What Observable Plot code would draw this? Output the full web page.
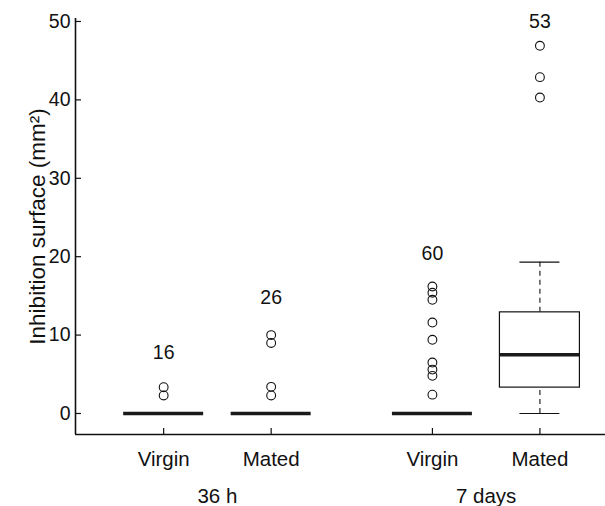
<!DOCTYPE html>
<html><head><meta charset="utf-8">
<script src="https://cdn.jsdelivr.net/npm/d3@7"></script>
<script src="https://cdn.jsdelivr.net/npm/@observablehq/plot@0.6"></script>
<style>body{margin:0;background:#fff} svg{display:block}</style>
</head><body><div id="chart"></div>
<script>
// ---- data ----
const groups = ["36 h", "36 h", "7 days", "7 days"];
const treatments = ["Virgin", "Mated", "Virgin", "Mated"];
const counts = [16, 26, 60, 53];
const lowerWhiskers = [0, 0, 0, 0];
const q1s = [0, 0, 0, 3.3];
const medians = [0, 0, 0, 7.5];
const q3s = [0, 0, 0, 12.9];
const upperWhiskers = [0, 0, 0, 19.3];
const outliers = [
  [3.35, 2.3],
  [10.0, 9.0, 3.4, 2.3],
  [16.2, 15.4, 14.5, 11.6, 9.4, 6.5, 5.6, 4.8, 2.4],
  [46.9, 42.9, 40.3]
];
const countLabelY = [7.8, 14.8, 20.4, 50.0];
const yTicks = [0, 10, 20, 30, 40, 50];
const yTitle = "Inhibition surface (mm²)";

// ---- derived layout (boxplot slots: groups separated by an extra half slot) ----
const groupNames = [...new Set(groups)];
const pos = groups.map((g, i) => i + 1 + 0.5 * groupNames.indexOf(g));
const boxHalf = 0.372, capHalf = 0.186;
const xDomain = [0.18, 5.11];
const yDomain = [-2.68, 50.38];

const rows = groups.map((g, i) => ({
  group: g, treatment: treatments[i], x: pos[i], n: counts[i],
  lo: lowerWhiskers[i], q1: q1s[i], med: medians[i], q3: q3s[i], hi: upperWhiskers[i],
  ly: countLabelY[i]
}));
const outRows = outliers.flatMap((arr, i) => arr.map(v => ({x: pos[i], y: v})));
const labelByPos = new Map(rows.map(r => [r.x, r.treatment]));
const groupCenters = groupNames.map(g => ({
  g, x: d3.mean(rows.filter(r => r.group === g), r => r.x)
}));

const FONT = 19.5;
const CAT_FONT = 20.5;
const TITLE_FONT = 22.5;
const ink = "#111";

const chart = Plot.plot({
  width: 605,
  height: 506,
  marginLeft: 75,
  marginRight: 0,
  marginTop: 18,
  marginBottom: 72,
  style: {fontFamily: "'Liberation Sans', Arial, Helvetica, sans-serif", fontSize: FONT + "px", color: ink, background: "#fff"},
  x: {domain: xDomain, label: null},
  y: {domain: yDomain, label: null},
  marks: [
    // frame lines (L-shaped box)
    Plot.ruleX([xDomain[0]], {stroke: ink, strokeWidth: 1.6}),
    Plot.ruleY([yDomain[0]], {stroke: ink, strokeWidth: 1.6}),
    // axes with inward ticks
    Plot.axisY(yTicks, {tickSize: -6, tickPadding: 11, stroke: ink, strokeWidth: 1.2, fontSize: FONT, fill: ink, label: null}),
    Plot.axisX(pos, {tickSize: -6, tickPadding: 23, tickFormat: d => labelByPos.get(d), stroke: ink, strokeWidth: 1.2, fontSize: CAT_FONT, fill: ink, label: null}),
    // group labels
    Plot.text(groupCenters, {x: "x", text: "g", frameAnchor: "bottom", dy: 54, lineAnchor: "top", fontSize: CAT_FONT, fill: ink}),
    // y-axis title
    Plot.text([yTitle], {frameAnchor: "left", textAnchor: "middle", rotate: -90, dx: -38, fontSize: TITLE_FONT, fill: ink}),
    // whiskers (dashed)
    Plot.ruleX(rows.filter(r => r.hi > r.q3), {x: "x", y1: "q3", y2: "hi", stroke: ink, strokeWidth: 1.1, strokeDasharray: "5,4"}),
    Plot.ruleX(rows.filter(r => r.q1 > r.lo), {x: "x", y1: "lo", y2: "q1", stroke: ink, strokeWidth: 1.1, strokeDasharray: "5,4"}),
    // whisker caps
    Plot.ruleY(rows, {y: "hi", x1: d => d.x - capHalf, x2: d => d.x + capHalf, stroke: ink, strokeWidth: 1.2}),
    Plot.ruleY(rows, {y: "lo", x1: d => d.x - capHalf, x2: d => d.x + capHalf, stroke: ink, strokeWidth: 1.2}),
    // boxes
    Plot.rect(rows.filter(r => r.q3 > r.q1), {x1: d => d.x - boxHalf, x2: d => d.x + boxHalf, y1: "q1", y2: "q3", fill: "white", stroke: ink, strokeWidth: 1.2}),
    // medians
    Plot.ruleY(rows, {y: "med", x1: d => d.x - boxHalf, x2: d => d.x + boxHalf, stroke: "#1a1a1a", strokeWidth: 3.6}),
    // outliers
    Plot.dot(outRows, {x: "x", y: "y", r: 4.4, stroke: ink, strokeWidth: 1.1, fill: "none"}),
    // sample sizes
    Plot.text(rows, {x: "x", y: "ly", text: d => String(d.n), fontSize: FONT, fill: ink})
  ]
});
document.getElementById("chart").append(chart);
</script>
</body></html>
